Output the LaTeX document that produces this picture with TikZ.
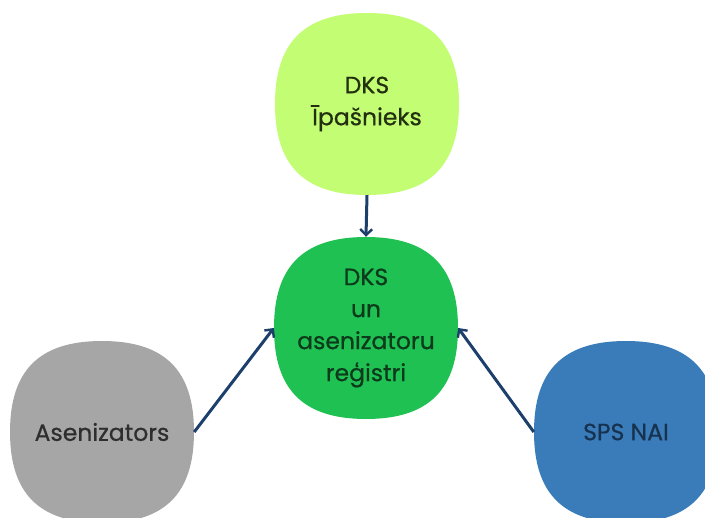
\documentclass[tikz,border=0pt]{standalone}
\usepackage{fontspec}
\setmainfont{Poppins}[FakeBold=0.6]
\usetikzlibrary{arrows.meta,backgrounds}

\definecolor{ownerFill}{HTML}{C3FD74}
\definecolor{registryFill}{HTML}{1FC153}
\definecolor{driverFill}{HTML}{A6A6A6}
\definecolor{spsFill}{HTML}{3A7CB9}
\definecolor{ownerText}{HTML}{23300F}
\definecolor{registryText}{HTML}{0E3A1C}
\definecolor{driverText}{HTML}{2E2E2E}
\definecolor{spsText}{HTML}{17324F}
\definecolor{linkColor}{HTML}{1C3F6B}

\tikzset{
  party/.style={rectangle, draw=none, inner sep=0pt, align=center,
    minimum width=184pt, minimum height=182pt,
    font=\fontsize{23.5}{32}\selectfont},
  link/.style={draw=linkColor, line width=3pt,
    -{Straight Barb[length=6pt,width=12pt,line width=2.4pt]}},
  blobfill/.style={xscale=92, yscale=91}
}

% rounded squircle outline, unit half-size
\newcommand\blobpath{(0,-1) .. controls (0.68,-1) and (1,-0.68) .. (1,0)
  .. controls (1,0.68) and (0.68,1) .. (0,1)
  .. controls (-0.68,1) and (-1,0.68) .. (-1,0)
  .. controls (-1,-0.68) and (-0.68,-1) .. (0,-1) -- cycle}

\begin{document}
\begin{tikzpicture}[x=1pt,y=-1pt]
  \useasboundingbox (0,0) rectangle (705,518);

  \node[party, text=ownerText]    (T) at (367,104) {DKS\\Īpašnieks};
  \node[party, text=registryText] (C) at (366,328) {DKS\\un\\asenizatoru\\reģistri};
  \node[party, text=driverText]   (G) at (102,432) {Asenizators};
  \node[party, text=spsText]      (S) at (626,432) {SPS NAI};

  \begin{pgfonlayer}{background}
    \fill[ownerFill, shift={(T.center)}, blobfill] \blobpath;
    \fill[registryFill, shift={(C.center)}, blobfill] \blobpath;
    \fill[driverFill, shift={(G.center)}, blobfill] \blobpath;
    \fill[spsFill, shift={(S.center)}, blobfill] \blobpath;
  \end{pgfonlayer}

  \draw[link] (T.south) -- (C.north);
  \draw[link] (G.east) -- (C.west);
  \draw[link] (S.west) -- (C.east);
\end{tikzpicture}
\end{document}
